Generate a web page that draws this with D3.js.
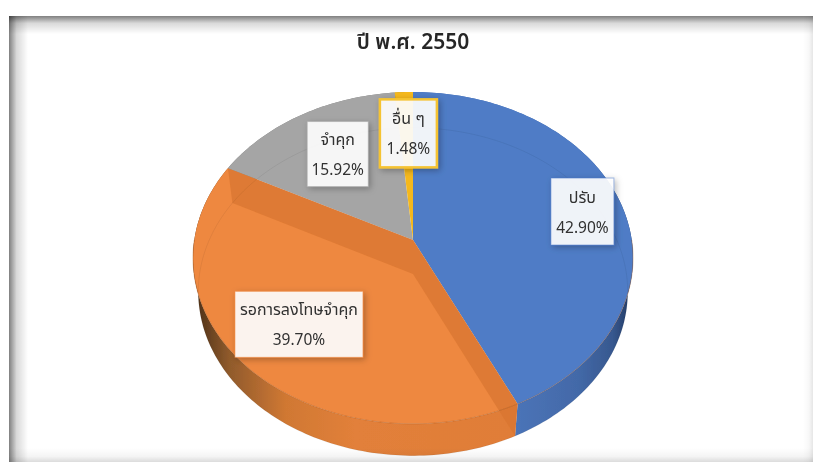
<!DOCTYPE html>
<html><head><meta charset="utf-8">
<script src="https://cdn.jsdelivr.net/npm/d3@7"></script>
<style>html,body{margin:0;padding:0;background:#fff}svg{display:block}</style>
</head><body>
<svg id="c" width="813" height="462"></svg>
<script>
const categories = ["ปรับ","รอการลงโทษจำคุก","จำคุก","อื่น ๆ"];
const shares = [42.90,39.70,15.92,1.48];
const sliceColors = ["#4f7cc6","#ee8840","#a5a5a5","#f5b81c"];
const labelBorders = ["#4472c4","#ed7d31","#a5a5a5","#f5c332"];
const labelReach = [0.8,0.7,0.67,0.7];
const labelSizes = [[63,67],[128,66],[61,65],[57,68]];
const title = "ปี พ.ศ. 2550";
const font = "'Noto Sans Thai','Noto Sans','DejaVu Sans',sans-serif";

const W=813,H=462;
const svg=d3.select("#c");
const defs=svg.append("defs");
defs.append("filter").attr("id","soft").attr("x",0).attr("y",0).attr("width","100%").attr("height","100%")
  .attr("filterUnits","userSpaceOnUse").attr("x",0).attr("y",0).attr("width",W).attr("height",H)
  .append("feGaussianBlur").attr("stdDeviation",0.4);
const root=svg.append("g").attr("filter","url(#soft)");
// perspective projection of the pie's unit disc
const P=0.108, A=218.7, B=164, CX=413, CY=240;
const topFace=(u,v)=>{const w=1+P*v;return [CX+A*u/w,CY-B*v/w];};
const lowFace=(u,v)=>{const w=1+P*v;return [CX+0.976*A*u/w,CY+34-0.988*B*v/w];};
const polar=(a,r=1)=>[r*Math.sin(a),r*Math.cos(a)];
const samples=(a0,a1)=>{const n=Math.max(2,Math.ceil(Math.abs(a1-a0)/0.02));return d3.range(n+1).map(i=>a0+(a1-a0)*i/n);};
const line=d3.line();
const pie=d3.pie().sort(null).value(d=>d);
const arcs=pie(shares);

function grad(id,stops,x1,x2){
  const g=defs.append("linearGradient").attr("id",id).attr("gradientUnits","userSpaceOnUse")
    .attr("x1",x1).attr("x2",x2).attr("y1",0).attr("y2",0);
  stops.forEach(s=>g.append("stop").attr("offset",s[0]).attr("stop-color",s[1]));
}
grad("wallO",[[0,"#4f3219"],[0.1,"#8f5a2c"],[0.28,"#d07833"],[0.5,"#e2803a"],[1,"#e07d38"]],197,514);
grad("wallB",[[0,"#4b74b8"],[0.55,"#4369a8"],[0.85,"#37588f"],[1,"#233b66"]],514,630);

// walls
const wall=root.append("g");
const wallFill=["url(#wallB)","url(#wallO)","#808080","#b98a10"];
arcs.forEach((d,i)=>{
  const as=samples(d.startAngle,d.endAngle);
  const pts=as.map(a=>topFace(...polar(a))).concat(as.slice().reverse().map(a=>lowFace(...polar(a))));
  wall.append("path").attr("d",line(pts)+"Z").attr("fill",wallFill[i]);
});

// top faces
const face=root.append("g");
arcs.forEach((d,i)=>{
  const pts=[topFace(0,0)].concat(samples(d.startAngle,d.endAngle).map(a=>topFace(...polar(a))));
  face.append("path").attr("d",line(pts)+"Z").attr("fill",sliceColors[i]);
});

// inner cut walls of the large orange slice, seen through the translucent top
[arcs[1].startAngle,arcs[1].endAngle].forEach(a=>{
  const pts=[topFace(0,0),topFace(...polar(a)),lowFace(...polar(a)),lowFace(0,0)];
  face.append("path").attr("d",line(pts)+"Z").attr("fill","#d8752f").attr("fill-opacity",0.72);
});

// faint rims
const full=samples(0,2*Math.PI);
root.append("path").attr("d",line(full.map(a=>lowFace(...polar(a))))+"Z").attr("fill","none").attr("stroke","#000").attr("stroke-opacity",0.06);
root.append("path").attr("d",line(samples(Math.PI/2,3*Math.PI/2).map(a=>topFace(...polar(a))))).attr("fill","none").attr("stroke","#9c4f16").attr("stroke-opacity",0.45).attr("stroke-width",0.8);

// title
root.append("text").attr("x",413).attr("y",49).attr("text-anchor","middle")
  .attr("font-family",font).attr("font-size",21).attr("font-weight",600).attr("fill","#262626").text(title);

// labels
defs.append("filter").attr("id","ls").attr("x","-30%").attr("y","-30%").attr("width","160%").attr("height","160%")
  .append("feDropShadow").attr("dx",2).attr("dy",2).attr("stdDeviation",3).attr("flood-color","#000").attr("flood-opacity",0.3);
arcs.forEach((d,i)=>{
  const mid=(d.startAngle+d.endAngle)/2;
  const [x,y]=topFace(...polar(mid,labelReach[i]));
  const [bw,bh]=labelSizes[i];
  const g=root.append("g").attr("transform",`translate(${x+2},${y})`);
  g.append("rect").attr("x",-bw/2).attr("y",-bh/2).attr("width",bw).attr("height",bh)
    .attr("fill","#fff").attr("fill-opacity",0.9).attr("stroke",labelBorders[i]).attr("stroke-width",i==3?2.5:1).attr("stroke-opacity",i==3?1:0.5).attr("filter","url(#ls)");
  g.append("text").attr("y",-9).attr("text-anchor","middle").attr("font-family",font).attr("font-size",16).attr("fill","#303030").text(categories[i]);
  g.append("text").attr("y",21).attr("text-anchor","middle").attr("font-family",font).attr("font-size",15.5).attr("fill","#303030").text(shares[i].toFixed(2)+"%");
});

// screenshot frame: inner shadow
function fade(id,x1,y1,x2,y2,col,op){
  const g=defs.append("linearGradient").attr("id",id).attr("x1",x1).attr("y1",y1).attr("x2",x2).attr("y2",y2);
  g.append("stop").attr("offset",0).attr("stop-color",col).attr("stop-opacity",op);
  g.append("stop").attr("offset",0.4).attr("stop-color",col).attr("stop-opacity",op*0.3);
  g.append("stop").attr("offset",1).attr("stop-color",col).attr("stop-opacity",0);
}
fade("fT",0,0,0,1,"#000",0.5);fade("fL",0,0,1,0,"#000",0.5);fade("fR",1,0,0,0,"#000",0.1);fade("fB",0,1,0,0,"#000",0.14);
svg.append("rect").attr("x",9).attr("y",16).attr("width",W-9).attr("height",18).attr("fill","url(#fT)");
svg.append("rect").attr("x",9).attr("y",16).attr("width",19).attr("height",H-16).attr("fill","url(#fL)");
svg.append("rect").attr("x",W-10).attr("y",16).attr("width",10).attr("height",H-16).attr("fill","url(#fR)");
svg.append("rect").attr("x",9).attr("y",H-14).attr("width",W-9).attr("height",14).attr("fill","url(#fB)");
</script>
</body></html>
